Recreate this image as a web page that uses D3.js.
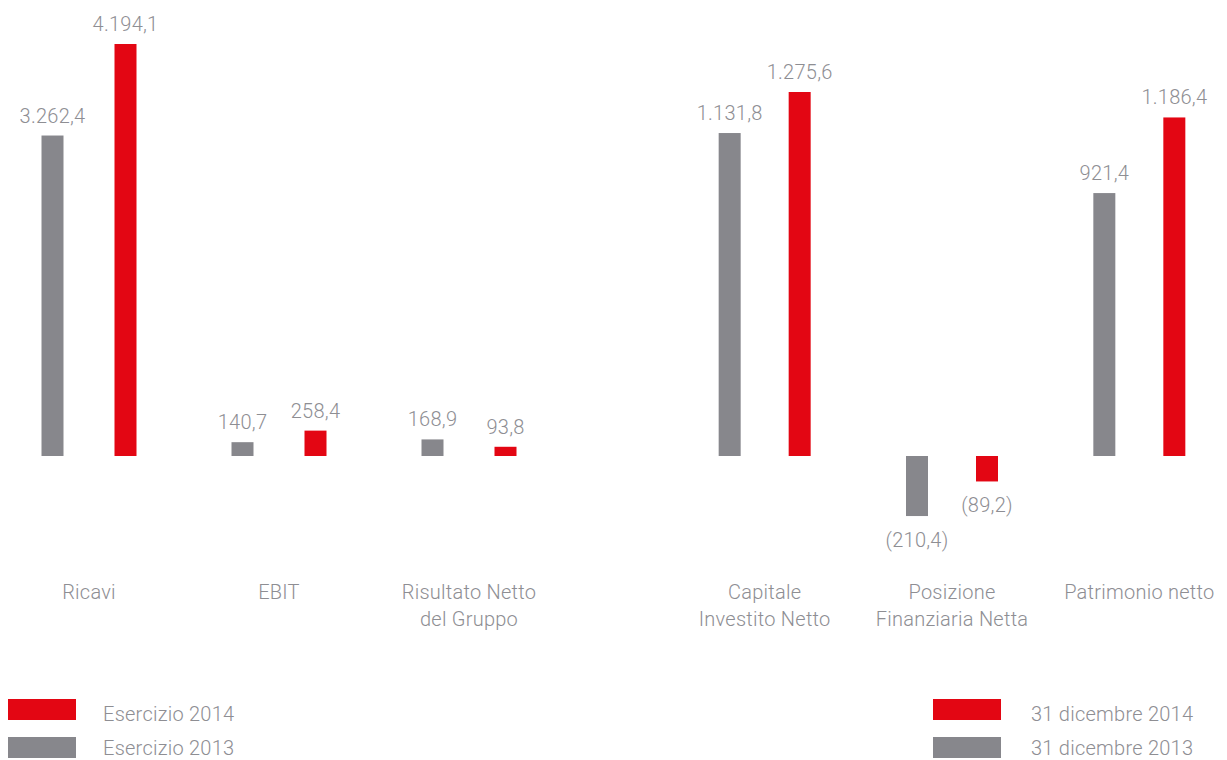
<!DOCTYPE html>
<html>
<head>
<meta charset="utf-8">
<script src="https://cdn.jsdelivr.net/npm/d3@7"></script>
<style>
  body { margin: 0; background: #fff; }
  text { font-family: Roboto, "Liberation Sans", sans-serif; font-weight: 300; fill: #8e8e93; font-size: 20px; letter-spacing: 0.25px; }
</style>
</head>
<body>
<div id="chart"></div>
<script>
// left panel: income statement
var leftCategories = [["Ricavi"], ["EBIT"], ["Risultato Netto", "del Gruppo"]];
var left2013 = [3262.4, 140.7, 168.9];
var left2014 = [4194.1, 258.4, 93.8];
var leftLabels2013 = ["3.262,4", "140,7", "168,9"];
var leftLabels2014 = ["4.194,1", "258,4", "93,8"];
var leftLegend = ["Esercizio 2014", "Esercizio 2013"];

// right panel: balance sheet
var rightCategories = [["Capitale", "Investito Netto"], ["Posizione", "Finanziaria Netta"], ["Patrimonio netto"]];
var right2013 = [1131.8, -210.4, 921.4];
var right2014 = [1275.6, -89.2, 1186.4];
var rightLabels2013 = ["1.131,8", "(210,4)", "921,4"];
var rightLabels2014 = ["1.275,6", "(89,2)", "1.186,4"];
var rightLegend = ["31 dicembre 2014", "31 dicembre 2013"];

var w = 1227, h = 760;
var red = "#e30613", grey = "#87878c";
var baseY = 456;

var svg = d3.select("#chart").append("svg")
  .attr("width", w)
  .attr("height", h);

function drawPanel(cats, v13, v14, l13, l14, xRange, yScale, innerOffset) {
  var x = d3.scaleBand().domain(d3.range(cats.length)).range(xRange);
  var g = svg.append("g");

  var rows = cats.map(function(c, i) {
    return [
      {i: i, v: v13[i], label: l13[i], color: grey, dx: -innerOffset},
      {i: i, v: v14[i], label: l14[i], color: red, dx: innerOffset}
    ];
  });
  var bars = d3.merge(rows);
  var bw = 22;

  g.selectAll("rect.bar").data(bars).enter().append("rect")
    .attr("class", "bar")
    .attr("x", function(d) { return x(d.i) + x.bandwidth() / 2 + d.dx - bw / 2; })
    .attr("y", function(d) { return Math.min(yScale(d.v), yScale(0)); })
    .attr("width", bw)
    .attr("height", function(d) { return Math.abs(yScale(d.v) - yScale(0)); })
    .attr("fill", function(d) { return d.color; });

  g.selectAll("text.val").data(bars).enter().append("text")
    .attr("class", "val")
    .attr("x", function(d) { return x(d.i) + x.bandwidth() / 2 + d.dx; })
    .attr("y", function(d) { return d.v >= 0 ? yScale(d.v) - 13 : yScale(d.v) + 31; })
    .attr("text-anchor", "middle")
    .text(function(d) { return d.label; });

  var cl = g.selectAll("text.cat").data(cats).enter().append("text")
    .attr("class", "cat")
    .attr("text-anchor", "middle")
    .attr("x", function(d, i) { return x(i) + x.bandwidth() / 2; })
    .attr("y", 599);
  cl.selectAll("tspan").data(function(d) { return d; }).enter().append("tspan")
    .attr("x", function() { return d3.select(this.parentNode).attr("x"); })
    .attr("dy", function(d, j) { return j === 0 ? 0 : 27; })
    .text(function(d) { return d; });
}

var yLeft = d3.scaleLinear().domain([0, 4194.1]).range([baseY, 44]);
var yRight = d3.scaleLinear().domain([0, 1275.6]).range([baseY, 92]);

drawPanel(leftCategories, left2013, left2014, leftLabels2013, leftLabels2014, [-6, 564], yLeft, 36.5);
drawPanel(rightCategories, right2013, right2014, rightLabels2013, rightLabels2014, [671, 1233], yRight, 35);

function drawLegend(labels, rx, tx) {
  var colors = [red, grey];
  var lg = svg.append("g");
  lg.selectAll("rect").data(labels).enter().append("rect")
    .attr("x", rx)
    .attr("y", function(d, i) { return 699 + i * 38; })
    .attr("width", 68)
    .attr("height", 21)
    .attr("fill", function(d, i) { return colors[i]; });
  lg.selectAll("text").data(labels).enter().append("text")
    .attr("x", tx)
    .attr("y", function(d, i) { return 721 + i * 34; })
    .text(function(d) { return d; });
}

drawLegend(leftLegend, 8, 103);
drawLegend(rightLegend, 933, 1031);
</script>
</body>
</html>
